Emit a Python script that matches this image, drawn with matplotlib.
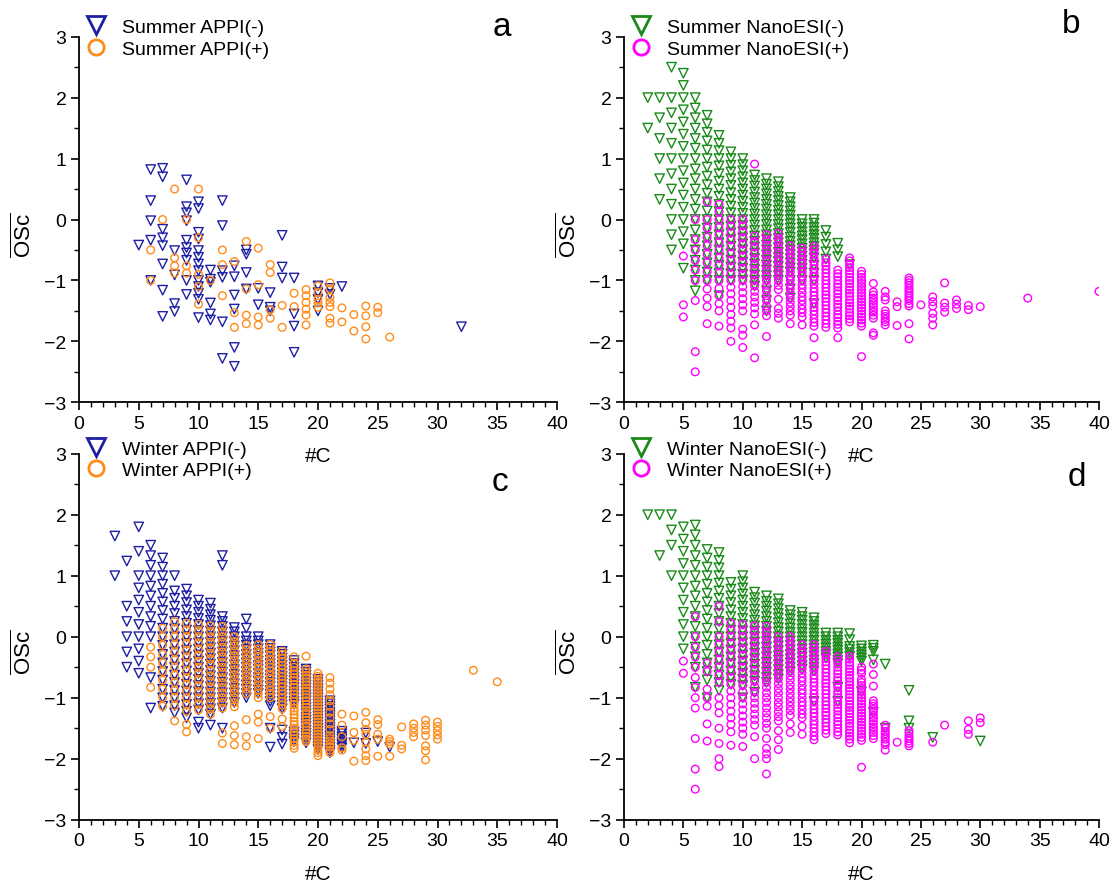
import matplotlib
matplotlib.use("Agg")
import matplotlib.pyplot as plt
from matplotlib.lines import Line2D
from matplotlib.ticker import MultipleLocator

plt.rcParams['font.family'] = ['Liberation Sans', 'DejaVu Sans']
plt.rcParams['mathtext.fontset'] = 'custom'
plt.rcParams['mathtext.rm'] = 'Liberation Sans'

# ---------------- data: #C -> list of OSc values ----------------
summer_appi_neg = {
    5: [-0.42],
    6: [0.82, 0.31, -0.02, -0.34, -1.0],
    7: [0.84, 0.70, -0.16, -0.30, -0.43, -0.73, -1.16, -1.59],
    8: [-0.51, -0.91, -1.38, -1.51],
    9: [0.65, 0.21, 0.11, -0.02, -0.34, -0.46, -0.55, -0.67, -1.0, -1.23],
    10: [0.29, 0.18, -0.21, -0.32, -0.51, -0.62, -0.73, -0.84, -1.0, -1.1, -1.21, -1.31, -1.61],
    11: [-0.83, -0.98, -1.03, -1.37, -1.55, -1.65],
    12: [0.31, -0.10, -0.84, -0.95, -1.68, -2.28],
    13: [-0.76, -0.94, -1.24, -1.47, -2.10, -2.41],
    14: [-0.50, -0.57, -0.87, -1.14],
    15: [-1.13, -1.40],
    16: [-1.20, -1.44, -1.50],
    17: [-0.26, -0.78, -0.96],
    18: [-0.96, -1.55, -1.75, -2.18],
    20: [-1.09, -1.20, -1.31, -1.50],
    21: [-1.13, -1.23],
    22: [-1.10],
    32: [-1.76],
}
summer_appi_pos = {
    6: [-0.50, -1.0],
    7: [0.0],
    8: [0.50, -0.63, -0.76, -0.88],
    9: [0.0, -0.76, -0.88],
    10: [0.50, -0.30, -0.90, -1.10, -1.39],
    11: [-1.0],
    12: [-0.50, -0.74, -1.25],
    13: [-0.69, -1.53, -1.77],
    14: [-0.36, -1.14, -1.57, -1.71],
    15: [-0.47, -1.07, -1.60, -1.73],
    16: [-0.74, -0.87, -1.48, -1.62],
    17: [-1.41, -1.77],
    18: [-1.21, -1.43],
    19: [-1.15, -1.25, -1.36, -1.47, -1.57, -1.73],
    20: [-1.09, -1.20, -1.31, -1.37, -1.44],
    21: [-1.04, -1.14, -1.28, -1.36, -1.43, -1.62, -1.70],
    22: [-1.45, -1.68],
    23: [-1.56, -1.83],
    24: [-1.42, -1.58, -1.76, -1.96],
    25: [-1.44, -1.53],
    26: [-1.93],
}

summer_nano_neg = {
    2: [2.0, 1.5],
    3: [2.0, 1.67, 1.33, 1.0, 0.67, 0.33],
    4: [2.5, 2.0, 1.75, 1.5, 1.25, 1.0, 0.75, 0.5, 0.25, 0.0, -0.25, -0.5],
    5: [2.4, 2.2, 2.0, 1.8, 1.6, 1.4, 1.2, 1.0, 0.8, 0.6, 0.4, 0.2, 0.0, -0.2, -0.4, -0.8],
    6: [2.0, 1.83, 1.67, 1.5, 1.33, 1.17, 1.0, 0.83, 0.67, 0.5, 0.33, 0.17, 0.0, -0.17, -0.33, -0.5, -0.67, -0.83, -1.0, -1.17],
    7: [1.71, 1.57, 1.43, 1.29, 1.14, 1.0, 0.86, 0.71, 0.57, 0.43, 0.29, 0.14, 0.0, -0.14, -0.29, -0.43, -0.57, -0.71, -0.86, -1.0],
    8: [1.38, 1.25, 1.13, 1.0, 0.88, 0.75, 0.63, 0.5, 0.38, 0.25, 0.13, 0.0, -0.13, -0.25, -0.38, -0.5, -0.63, -0.75, -0.88, -1.0, -1.25],
    9: [1.11, 1.0, 0.89, 0.78, 0.67, 0.56, 0.44, 0.33, 0.22, 0.11, 0.0, -0.11, -0.22, -0.33, -0.44, -0.56, -0.67, -0.78, -0.89, -1.0],
    10: [1.0, 0.9, 0.8, 0.7, 0.6, 0.5, 0.4, 0.3, 0.2, 0.1, 0.0, -0.1, -0.2, -0.3, -0.4, -0.5, -0.6, -0.7, -0.8, -0.9, -1.0],
    11: [0.73, 0.64, 0.55, 0.45, 0.36, 0.27, 0.18, 0.09, 0.0, -0.09, -0.18, -0.27, -0.36, -0.45, -0.55, -0.64, -0.73, -0.82, -0.91, -1.0, -1.09],
    12: [0.67, 0.58, 0.5, 0.42, 0.33, 0.25, 0.17, 0.08, 0.0, -0.08, -0.17, -0.25, -0.33, -0.42, -0.5, -0.58, -0.67, -0.75, -0.83, -0.92, -1.0, -1.17, -1.33, -1.5],
    13: [0.62, 0.54, 0.46, 0.38, 0.31, 0.23, 0.15, 0.08, 0.0, -0.08, -0.15, -0.23, -0.31, -0.38, -0.46, -0.54, -0.62, -0.69, -0.77, -0.85, -0.92, -1.0],
    14: [0.36, 0.29, 0.21, 0.14, 0.07, 0.0, -0.07, -0.14, -0.21, -0.29, -0.36, -0.43, -0.5, -0.57, -0.64, -0.71, -0.79, -0.86, -1.0, -1.14, -1.29],
    15: [0.0, -0.07, -0.13, -0.2, -0.27, -0.33, -0.4, -0.47, -0.53, -0.6, -0.67, -0.73, -0.8, -0.87, -1.0],
    16: [0.0, -0.06, -0.13, -0.19, -0.25, -0.31, -0.38, -0.44, -0.5, -0.56, -0.63, -0.75, -0.88, -1.0, -1.38],
    17: [-0.18, -0.29, -0.41, -0.53, -0.65],
    18: [-0.39, -0.5, -0.61],
    19: [-0.74],
}
summer_nano_pos = {
    5: [-0.6, -1.4, -1.6],
    6: [0.0, -0.33, -0.5, -0.67, -0.83, -1.0, -1.33, -2.17, -2.5],
    7: [0.29, 0.0, -0.14, -0.29, -0.43, -0.57, -0.71, -0.86, -1.0, -1.14, -1.29, -1.43, -1.71],
    8: [0.25, 0.13, 0.0, -0.13, -0.25, -0.38, -0.5, -0.63, -0.75, -0.88, -1.0, -1.13, -1.25, -1.38, -1.5, -1.75],
    9: [0.0, -0.11, -0.22, -0.33, -0.44, -0.56, -0.67, -0.78, -0.89, -1.0, -1.11, -1.22, -1.33, -1.44, -1.56, -1.67, -1.78, -2.0],
    10: [0.0, -0.1, -0.2, -0.3, -0.4, -0.5, -0.6, -0.7, -0.8, -0.9, -1.0, -1.1, -1.2, -1.3, -1.4, -1.5, -1.8, -1.9, -2.1],
    11: [0.91, -0.27, -0.36, -0.45, -0.55, -0.64, -0.73, -0.82, -0.91, -1.0, -1.09, -1.18, -1.27, -1.36, -1.45, -1.55, -1.73, -2.27],
    12: [-0.25, -0.33, -0.42, -0.5, -0.58, -0.67, -0.75, -0.83, -0.92, -1.0, -1.08, -1.17, -1.25, -1.33, -1.42, -1.5, -1.58, -1.92],
    13: [-0.23, -0.31, -0.38, -0.46, -0.54, -0.62, -0.69, -0.77, -0.85, -0.92, -1.0, -1.08, -1.15, -1.31, -1.46, -1.54, -1.62],
    14: [-0.43, -0.5, -0.57, -0.64, -0.71, -0.79, -0.86, -0.93, -1.0, -1.07, -1.14, -1.21, -1.29, -1.36, -1.43, -1.5, -1.57, -1.71],
    15: [-0.47, -0.53, -0.6, -0.67, -0.73, -0.8, -0.87, -0.93, -1.0, -1.07, -1.13, -1.2, -1.27, -1.33, -1.4, -1.47, -1.53, -1.6, -1.73],
    16: [-0.44, -0.5, -0.56, -0.63, -0.69, -0.75, -0.81, -0.88, -0.94, -1.0, -1.06, -1.13, -1.19, -1.25, -1.31, -1.38, -1.44, -1.5, -1.56, -1.63, -1.69, -1.75, -1.94, -2.25],
    17: [-0.65, -0.71, -0.76, -0.82, -0.88, -0.94, -1.0, -1.06, -1.12, -1.18, -1.24, -1.29, -1.35, -1.41, -1.47, -1.53, -1.59, -1.65, -1.71, -1.77],
    18: [-0.83, -0.89, -0.94, -1.0, -1.06, -1.11, -1.17, -1.22, -1.28, -1.33, -1.39, -1.44, -1.5, -1.56, -1.61, -1.67, -1.72, -1.78, -1.94],
    19: [-0.63, -0.68, -0.74, -0.79, -0.84, -0.89, -0.95, -1.0, -1.05, -1.11, -1.16, -1.21, -1.26, -1.32, -1.37, -1.42, -1.47, -1.53, -1.58, -1.63, -1.68],
    20: [-0.85, -0.9, -0.95, -1.0, -1.05, -1.1, -1.15, -1.2, -1.25, -1.3, -1.35, -1.4, -1.45, -1.5, -1.55, -1.6, -1.65, -1.7, -1.75, -2.25],
    21: [-1.05, -1.19, -1.24, -1.29, -1.33, -1.38, -1.43, -1.48, -1.52, -1.57, -1.62, -1.86, -1.9],
    22: [-1.18, -1.27, -1.32, -1.5, -1.55, -1.59, -1.64, -1.68, -1.73],
    23: [-1.35, -1.43, -1.74],
    24: [-0.96, -1.0, -1.04, -1.08, -1.13, -1.17, -1.21, -1.25, -1.29, -1.33, -1.38, -1.42, -1.71, -1.96],
    25: [-1.4],
    26: [-1.27, -1.35, -1.42, -1.54, -1.62, -1.73],
    27: [-1.04, -1.37, -1.44, -1.52],
    28: [-1.32, -1.39, -1.46],
    29: [-1.41, -1.48],
    30: [-1.43],
    34: [-1.29],
    40: [-1.18],
}

winter_appi_neg = {
    3: [1.65, 1.0],
    4: [1.24, 0.5, 0.25, 0.0, -0.25, -0.5],
    5: [1.8, 1.4, 1.0, 0.8, 0.6, 0.4, 0.2, 0.0, -0.2, -0.4, -0.6],
    6: [1.5, 1.33, 1.17, 1.0, 0.83, 0.67, 0.5, 0.33, 0.17, 0.0, -0.67, -1.17],
    7: [1.29, 1.14, 1.0, 0.86, 0.71, 0.57, 0.43, 0.29, 0.14, 0.0, -0.14, -0.29, -0.43, -0.57, -0.71, -0.86, -1.0, -1.14],
    8: [1.0, 0.75, 0.63, 0.5, 0.38, 0.25, 0.13, 0.0, -0.13, -0.25, -0.38, -0.5, -0.63, -0.75, -0.88, -1.0, -1.13, -1.25],
    9: [0.78, 0.67, 0.56, 0.44, 0.33, 0.22, 0.11, 0.0, -0.11, -0.22, -0.33, -0.44, -0.56, -0.67, -0.78, -0.89, -1.0, -1.11, -1.22, -1.33],
    10: [0.6, 0.5, 0.4, 0.3, 0.2, 0.1, 0.0, -0.1, -0.2, -0.3, -0.4, -0.5, -0.6, -0.7, -0.8, -0.9, -1.0, -1.1, -1.2, -1.4, -1.5],
    11: [0.55, 0.45, 0.36, 0.27, 0.18, 0.09, 0.0, -0.09, -0.18, -0.27, -0.36, -0.45, -0.55, -0.64, -0.73, -0.82, -0.91, -1.0, -1.09, -1.18, -1.27, -1.45],
    12: [1.33, 1.17, 0.33, 0.25, 0.17, 0.08, 0.0, -0.08, -0.17, -0.25, -0.33, -0.42, -0.5, -0.58, -0.67, -0.75, -0.83, -0.92, -1.0, -1.08, -1.17, -1.5],
    13: [0.15, 0.08, 0.0, -0.08, -0.15, -0.23, -0.31, -0.38, -0.46, -0.54, -0.62, -0.69, -0.77, -0.85, -0.92, -1.0, -1.08],
    14: [0.29, 0.14, 0.0, -0.07, -0.14, -0.21, -0.29, -0.36, -0.43, -0.5, -0.57, -0.64, -0.71, -0.79, -0.86, -0.93, -1.0],
    15: [0.0, -0.07, -0.13, -0.2, -0.27, -0.33, -0.4, -0.47, -0.53, -0.6, -0.67, -0.73, -0.8, -0.87, -0.93],
    16: [-0.13, -0.19, -0.25, -0.31, -0.38, -0.44, -0.5, -0.56, -0.63, -0.69, -0.75, -0.81, -0.88, -0.94, -1.0, -1.06, -1.13, -1.5, -1.81],
    17: [-0.24, -0.29, -0.35, -0.41, -0.47, -0.53, -0.59, -0.65, -0.71, -0.76, -0.82, -0.88, -0.94, -1.0, -1.06, -1.12, -1.18, -1.53, -1.65, -1.76],
    18: [-0.39, -0.44, -0.5, -0.56, -0.61, -0.67, -0.72, -0.78, -0.83, -0.89, -0.94, -1.0, -1.06, -1.11, -1.56, -1.61, -1.67, -1.72],
    19: [-0.53, -0.58, -0.63, -0.68, -0.74, -0.79, -0.84, -0.89, -0.95, -1.0, -1.05, -1.11, -1.16, -1.21, -1.26, -1.32, -1.37, -1.42, -1.47, -1.53, -1.58, -1.63, -1.68, -1.74],
    20: [-0.7, -0.75, -0.8, -0.85, -0.9, -0.95, -1.0, -1.05, -1.1, -1.15, -1.2, -1.25, -1.3, -1.35, -1.4, -1.45, -1.5, -1.55, -1.6, -1.65, -1.7, -1.75, -1.8, -1.85],
    21: [-1.05, -1.1, -1.14, -1.19, -1.24, -1.29, -1.33, -1.38, -1.43, -1.48, -1.52, -1.57, -1.62, -1.67, -1.71, -1.76, -1.81, -1.86, -1.9],
    22: [-1.55, -1.59, -1.64, -1.68, -1.73, -1.77, -1.82],
    23: [-1.74],
    24: [-1.58, -1.75],
    25: [-1.72],
    26: [-1.81],
}
winter_appi_pos = {
    6: [-0.17, -0.33, -0.5, -0.83],
    7: [0.14, 0.0, -0.14, -0.29, -0.43, -0.57, -0.71, -0.86, -1.0, -1.14],
    8: [0.25, 0.13, 0.0, -0.13, -0.25, -0.38, -0.5, -0.63, -0.75, -0.88, -1.0, -1.13, -1.38],
    9: [0.22, 0.11, 0.0, -0.11, -0.22, -0.33, -0.44, -0.56, -0.67, -0.78, -0.89, -1.0, -1.11, -1.22, -1.44, -1.56],
    10: [0.2, 0.1, 0.0, -0.1, -0.2, -0.3, -0.4, -0.5, -0.6, -0.7, -0.8, -0.9, -1.0, -1.1, -1.2],
    11: [0.18, 0.09, 0.0, -0.09, -0.18, -0.27, -0.36, -0.45, -0.55, -0.64, -0.73, -0.82, -0.91, -1.0, -1.09, -1.18, -1.27],
    12: [0.17, 0.08, 0.0, -0.08, -0.17, -0.25, -0.33, -0.42, -0.5, -0.58, -0.67, -0.75, -0.83, -0.92, -1.0, -1.08, -1.17, -1.58, -1.75],
    13: [0.0, -0.08, -0.15, -0.23, -0.31, -0.38, -0.46, -0.54, -0.62, -0.69, -0.77, -0.85, -0.92, -1.0, -1.08, -1.15, -1.46, -1.62, -1.77],
    14: [-0.14, -0.21, -0.29, -0.36, -0.43, -0.5, -0.57, -0.64, -0.71, -0.79, -0.86, -0.93, -1.36, -1.64, -1.79],
    15: [-0.13, -0.2, -0.27, -0.33, -0.4, -0.47, -0.53, -0.6, -0.67, -0.73, -0.8, -0.87, -0.93, -1.0, -1.27, -1.4, -1.67],
    16: [-0.13, -0.19, -0.25, -0.31, -0.38, -0.44, -0.5, -0.56, -0.63, -0.69, -0.75, -0.81, -0.88, -0.94, -1.0, -1.31, -1.5],
    17: [-0.24, -0.29, -0.35, -0.41, -0.47, -0.53, -0.59, -0.65, -0.71, -0.76, -0.82, -0.88, -0.94, -1.0, -1.06, -1.12, -1.18, -1.35, -1.47],
    18: [-0.33, -0.44, -0.5, -0.56, -0.61, -0.67, -0.72, -0.78, -0.83, -0.89, -0.94, -1.0, -1.06, -1.11, -1.17, -1.22, -1.28, -1.33, -1.39, -1.44, -1.5, -1.56, -1.61, -1.67, -1.72, -1.78, -1.83],
    19: [-0.32, -0.53, -0.58, -0.63, -0.68, -0.74, -0.79, -0.84, -0.89, -0.95, -1.0, -1.05, -1.11, -1.16, -1.21, -1.26, -1.32, -1.37, -1.42, -1.47, -1.53, -1.58, -1.63, -1.68, -1.72],
    20: [-0.6, -0.65, -0.7, -0.75, -0.8, -0.85, -0.9, -0.95, -1.0, -1.05, -1.1, -1.15, -1.2, -1.25, -1.3, -1.35, -1.4, -1.45, -1.5, -1.55, -1.6, -1.65, -1.7, -1.75, -1.8, -1.85, -1.9, -1.95],
    21: [-0.67, -0.76, -0.86, -0.95, -1.05, -1.14, -1.24, -1.33, -1.43, -1.52, -1.62, -1.67, -1.71, -1.76, -1.81, -1.86, -1.9],
    22: [-1.27, -1.45, -1.64, -1.82, -1.86],
    23: [-1.3, -1.57, -1.7, -2.04],
    24: [-1.24, -1.41, -1.52, -1.6, -1.73, -1.84, -1.95, -2.03],
    25: [-1.36, -1.44, -1.6, -1.68, -1.96],
    26: [-1.68, -1.72, -1.76, -1.96],
    27: [-1.48, -1.78, -1.84],
    28: [-1.43, -1.5, -1.57, -1.64],
    29: [-1.37, -1.45, -1.53, -1.62, -1.79, -1.87, -2.02],
    30: [-1.4, -1.47, -1.54, -1.61, -1.68],
    33: [-0.55],
    35: [-0.74],
}

winter_nano_neg = {
    2: [2.0],
    3: [2.0, 1.33],
    4: [2.0, 1.75, 1.5, 1.0],
    5: [1.8, 1.6, 1.4, 1.2, 1.0, 0.8, 0.6, 0.4, 0.2, 0.0, -0.2],
    6: [1.83, 1.67, 1.5, 1.33, 1.17, 1.0, 0.83, 0.67, 0.5, 0.33, 0.17, 0.0, -0.17, -0.33, -0.5, -0.83],
    7: [1.43, 1.29, 1.14, 1.0, 0.86, 0.71, 0.57, 0.43, 0.29, 0.14, 0.0, -0.14, -0.29, -0.43, -0.57, -0.71, -1.0],
    8: [1.38, 1.25, 1.13, 1.0, 0.88, 0.75, 0.63, 0.5, 0.38, 0.25, 0.13, 0.0, -0.13, -0.25, -0.38, -0.5, -0.63, -0.75, -0.88],
    9: [0.89, 0.78, 0.67, 0.56, 0.44, 0.33, 0.22, 0.11, 0.0, -0.11, -0.22, -0.33, -0.44, -0.56, -0.67, -0.78],
    10: [1.0, 0.9, 0.8, 0.7, 0.6, 0.5, 0.4, 0.3, 0.2, 0.1, 0.0, -0.1, -0.2, -0.3, -0.4, -0.5, -0.6, -0.7, -0.8, -1.0],
    11: [0.73, 0.64, 0.55, 0.45, 0.36, 0.27, 0.18, 0.09, 0.0, -0.09, -0.18, -0.27, -0.36, -0.45, -0.55, -0.64, -0.73, -0.91],
    12: [0.67, 0.58, 0.5, 0.42, 0.33, 0.25, 0.17, 0.08, 0.0, -0.08, -0.17, -0.25, -0.33, -0.42, -0.5, -0.58, -0.67, -0.75],
    13: [0.62, 0.54, 0.46, 0.38, 0.31, 0.23, 0.15, 0.08, 0.0, -0.08, -0.15, -0.23, -0.31, -0.38, -0.46, -0.54, -0.62, -0.69],
    14: [0.43, 0.36, 0.29, 0.21, 0.14, 0.07, 0.0, -0.07, -0.14, -0.21, -0.29, -0.36, -0.43, -0.5, -0.57],
    15: [0.4, 0.33, 0.27, 0.2, 0.13, 0.07, 0.0, -0.07, -0.13, -0.2, -0.27, -0.33, -0.4, -0.47, -0.53],
    16: [0.31, 0.25, 0.19, 0.13, 0.06, 0.0, -0.06, -0.13, -0.19, -0.25, -0.31, -0.38, -0.44, -0.5, -0.56, -1.06],
    17: [0.06, 0.0, -0.06, -0.12, -0.18, -0.24, -0.29, -0.35],
    18: [0.06, 0.0, -0.06, -0.11, -0.17, -0.22, -0.28, -0.33, -0.39, -0.44, -0.83, -1.06],
    19: [0.05, -0.05, -0.16, -0.21, -0.26, -0.32],
    20: [-0.15, -0.2, -0.25, -0.3, -0.35, -0.4, -0.9],
    21: [-0.14, -0.19, -0.24, -0.38, -1.24],
    22: [-0.45, -1.5],
    24: [-0.88, -1.38, -1.5],
    26: [-1.65],
    30: [-1.71],
}
winter_nano_pos = {
    5: [-0.4, -0.6],
    6: [0.33, 0.0, -0.17, -0.33, -0.5, -0.67, -0.83, -1.0, -1.17, -1.67, -2.17, -2.5],
    7: [-0.43, -0.57, -0.86, -1.0, -1.14, -1.43, -1.71],
    8: [0.5, 0.25, 0.0, -0.13, -0.25, -0.38, -0.5, -0.63, -0.75, -1.0, -1.13, -1.25, -1.5, -1.75, -2.0, -2.13],
    9: [0.22, 0.11, 0.0, -0.11, -0.22, -0.33, -0.44, -0.56, -0.67, -0.78, -0.89, -1.0, -1.11, -1.22, -1.33, -1.44, -1.56, -1.78],
    10: [0.2, 0.1, 0.0, -0.1, -0.2, -0.3, -0.4, -0.5, -0.6, -0.7, -0.8, -0.9, -1.0, -1.1, -1.2, -1.3, -1.4, -1.5, -1.6, -1.8],
    11: [0.18, 0.09, 0.0, -0.09, -0.18, -0.27, -0.36, -0.45, -0.55, -0.64, -0.73, -0.82, -0.91, -1.0, -1.09, -1.18, -1.27, -1.36, -1.45, -1.64, -2.0],
    12: [0.17, 0.08, 0.0, -0.08, -0.17, -0.25, -0.33, -0.42, -0.5, -0.58, -0.67, -0.75, -0.83, -0.92, -1.0, -1.08, -1.17, -1.25, -1.33, -1.42, -1.5, -1.67, -1.83, -1.92, -2.0, -2.25],
    13: [0.0, -0.08, -0.15, -0.23, -0.31, -0.38, -0.46, -0.54, -0.62, -0.69, -0.77, -0.85, -0.92, -1.0, -1.08, -1.15, -1.23, -1.31, -1.38, -1.54, -1.69, -1.85],
    14: [0.0, -0.07, -0.14, -0.21, -0.29, -0.36, -0.43, -0.5, -0.57, -0.64, -0.71, -0.79, -0.86, -0.93, -1.0, -1.07, -1.14, -1.21, -1.29, -1.43, -1.57],
    15: [-0.13, -0.2, -0.27, -0.33, -0.4, -0.47, -0.53, -0.6, -0.67, -0.73, -0.8, -0.87, -0.93, -1.0, -1.07, -1.13, -1.2, -1.27, -1.33, -1.47, -1.6],
    16: [-0.13, -0.19, -0.25, -0.31, -0.38, -0.44, -0.5, -0.56, -0.63, -0.69, -0.75, -0.81, -0.88, -0.94, -1.0, -1.06, -1.13, -1.19, -1.25, -1.31, -1.38, -1.44, -1.5, -1.56, -1.63, -1.69],
    17: [-0.24, -0.29, -0.35, -0.41, -0.47, -0.53, -0.59, -0.65, -0.71, -0.76, -0.82, -0.88, -0.94, -1.0, -1.06, -1.12, -1.18, -1.24, -1.29, -1.35, -1.41, -1.47, -1.53, -1.59],
    18: [-0.33, -0.39, -0.44, -0.5, -0.56, -0.61, -0.67, -0.72, -0.78, -0.83, -0.89, -0.94, -1.0, -1.06, -1.11, -1.17, -1.22, -1.28, -1.33, -1.39, -1.44, -1.5, -1.56, -1.61],
    19: [-0.32, -0.37, -0.42, -0.47, -0.53, -0.58, -0.63, -0.68, -0.74, -0.79, -0.84, -0.89, -0.95, -1.0, -1.05, -1.11, -1.16, -1.21, -1.26, -1.32, -1.37, -1.42, -1.47, -1.53, -1.58, -1.63, -1.68, -1.74],
    20: [-0.5, -0.55, -0.6, -0.7, -0.75, -0.8, -0.85, -0.9, -0.95, -1.0, -1.05, -1.1, -1.15, -1.2, -1.25, -1.3, -1.35, -1.4, -1.45, -1.5, -1.55, -1.6, -1.65, -1.7, -2.14],
    21: [-0.45, -0.62, -0.81, -1.05, -1.1, -1.14, -1.19, -1.24, -1.29, -1.33, -1.38, -1.43, -1.48, -1.52, -1.57, -1.62, -1.67],
    22: [-1.45, -1.5, -1.55, -1.59, -1.64, -1.68, -1.73, -1.77, -1.86],
    23: [-1.73],
    24: [-1.54, -1.58, -1.63, -1.67, -1.71, -1.75, -1.79],
    26: [-1.73],
    27: [-1.45],
    29: [-1.38, -1.52, -1.6],
    30: [-1.33, -1.41],
}

panel_letters = ["a", "b", "c", "d"]
legend_labels = [
    ("Summer APPI(-)", "Summer APPI(+)"),
    ("Summer NanoESI(-)", "Summer NanoESI(+)"),
    ("Winter APPI(-)", "Winter APPI(+)"),
    ("Winter NanoESI(-)", "Winter NanoESI(+)"),
]
x_ticks = [0, 5, 10, 15, 20, 25, 30, 35, 40]
y_ticks = [-3, -2, -1, 0, 1, 2, 3]

# ---------------- styling ----------------
BLUE = "#1f1fa3"
ORANGE = "#ff8c1a"
GREEN = "#1a8a1a"
MAGENTA = "#ff00ff"


def flatten(d):
    xs, ys = [], []
    for c, vals in d.items():
        for v in vals:
            xs.append(c)
            ys.append(v)
    return xs, ys


W, H = 1113, 887
fig = plt.figure(figsize=(W / 100, H / 100), dpi=100)

# axes boxes in pixels: (left, top, right, bottom)
boxes = [
    (79, 37.7, 557, 403.3),
    (624, 37.7, 1099, 403.3),
    (79, 454.7, 557, 820.7),
    (624, 454.7, 1099, 820.7),
]
series = [
    (summer_appi_neg, summer_appi_pos, BLUE, ORANGE),
    (summer_nano_neg, summer_nano_pos, GREEN, MAGENTA),
    (winter_appi_neg, winter_appi_pos, BLUE, ORANGE),
    (winter_nano_neg, winter_nano_pos, GREEN, MAGENTA),
]
letter_pos = [(0.885, 1.027), (0.941, 1.035), (0.881, 0.925), (0.954, 0.939)]
legend_anchor = [(0.015, 1.05), (0.015, 1.05), (0.015, 1.037), (0.015, 1.037)]

for i, ((l, t, r, b), (neg, pos, cneg, cpos)) in enumerate(zip(boxes, series)):
    ax = fig.add_axes([l / W, 1 - b / H, (r - l) / W, (b - t) / H])
    ax.patch.set_facecolor('none')
    xn, yn = flatten(neg)
    xp, yp = flatten(pos)
    ax.scatter(xn, yn, marker='v', s=46, facecolors='none', edgecolors=cneg,
               linewidths=1.0, zorder=2)
    ax.scatter(xp, yp, marker='o', s=30, facecolors='none', edgecolors=cpos,
               linewidths=1.0, zorder=3)
    ax.set_xlim(0, 40)
    ax.set_ylim(-3, 3)
    ax.set_xticks(x_ticks)
    ax.set_yticks(y_ticks)
    ax.xaxis.set_minor_locator(MultipleLocator(1))
    ax.yaxis.set_minor_locator(MultipleLocator(0.5))
    for side in ('top', 'right'):
        ax.spines[side].set_visible(False)
    for side in ('left', 'bottom'):
        ax.spines[side].set_linewidth(1.3)
    ax.tick_params(which='major', direction='out', length=6, width=1.2,
                   labelsize=14, pad=3)
    ax.tick_params(which='minor', direction='out', length=3.5, width=1.0)
    ax.set_xlabel("#C", fontsize=15)
    ax.xaxis.set_label_coords(0.5, -0.12)
    ax.set_ylabel(r"$\overline{\mathrm{OSc}}$", fontsize=16)
    ax.yaxis.set_label_coords(-0.09, 0.46)
    ax.text(letter_pos[i][0], letter_pos[i][1], panel_letters[i],
            transform=ax.transAxes, fontsize=24, ha='center', va='center')
    handles = [
        Line2D([], [], linestyle='none', marker='v', markersize=13,
               markerfacecolor='none', markeredgecolor=cneg, markeredgewidth=2.0),
        Line2D([], [], linestyle='none', marker='o', markersize=11,
               markerfacecolor='none', markeredgecolor=cpos, markeredgewidth=2.0),
    ]
    ax.legend(handles, legend_labels[i], loc='upper left',
              bbox_to_anchor=legend_anchor[i], frameon=False, fontsize=14,
              borderpad=0, borderaxespad=0, handlelength=1.0,
              handletextpad=0.85, labelspacing=0.2)

fig.savefig("out.png", dpi=100)
